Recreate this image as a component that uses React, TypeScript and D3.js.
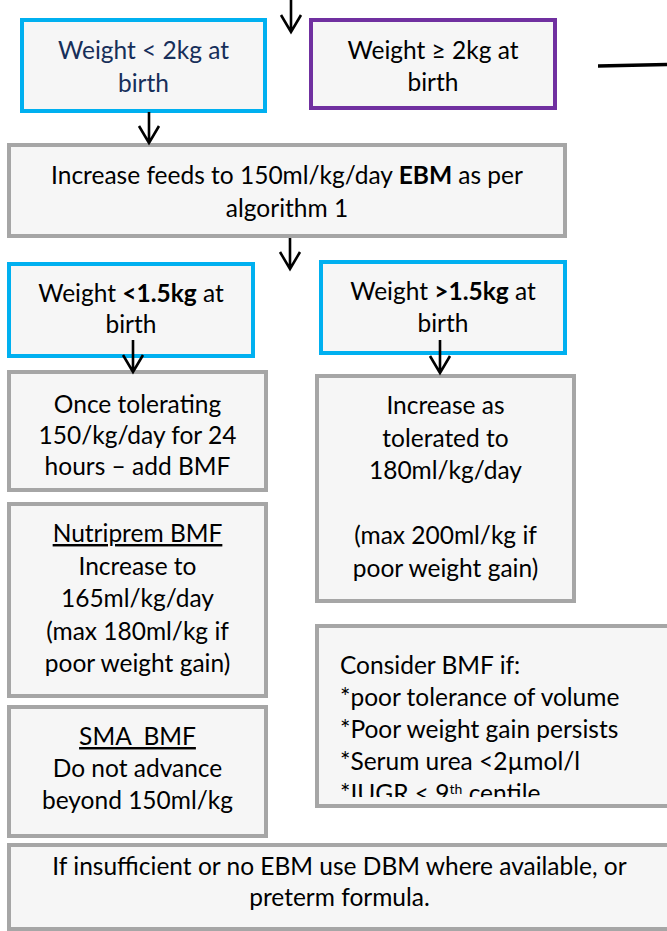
import React from "react";
import * as d3 from "d3";

// ---- content ----
const boxIds = ["A", "B", "C", "D", "E", "F", "G", "H", "I", "J", "K"];
const boxTexts: string[][] = [
  ["Weight < 2kg at", "birth"],
  ["Weight \u2265 2kg at", "birth"],
  ["Increase feeds to 150ml/kg/day **EBM** as per", "algorithm 1"],
  ["Weight **<1.5kg** at", "birth"],
  ["Weight **>1.5kg** at", "birth"],
  ["Once tolerating", "150/kg/day for 24", "hours \u2013 add BMF"],
  ["Increase as", "tolerated to", "180ml/kg/day", "", "(max 200ml/kg if", "poor weight gain)"],
  ["__Nutriprem BMF__", "Increase to", "165ml/kg/day", "(max 180ml/kg if", "poor weight gain)"],
  ["Consider BMF if:", "*poor tolerance of volume", "*Poor weight gain persists", "*Serum urea <2\u00b5mol/l", "*IUGR < 9^th^ centile"],
  ["__SMA  BMF__", "Do not advance", "beyond 150ml/kg"],
  ["If insufficient or no EBM use DBM where available, or", "preterm formula."],
];

// ---- layout (outer edges) ----
const boxX0 = [20, 309, 7, 7, 319, 7, 315, 7, 315, 7, 7];
const boxX1 = [267, 557, 567, 255, 567, 268, 576, 268, 680, 268, 672];
const boxY0 = [18, 18, 143, 262, 260, 370, 374, 502, 624, 705, 843];
const boxY1 = [113, 110, 238, 358, 355, 492, 603, 698, 808, 838, 931];
const firstBaseline = [59, 58.5, 184, 302, 300, 413, 414, 542, 674, 745, 875];
const lineGap = [32.5, 32.5, 32.5, 31, 32, 31, 32.5, 32.5, 32, 32, 31];
const borderKind = ["cyan", "purple", "gray", "cyan", "cyan", "gray", "gray", "gray", "gray", "gray", "gray"];
const align = ["middle", "middle", "middle", "middle", "middle", "middle", "middle", "middle", "start", "middle", "middle"];
const textLeft = [0, 0, 0, 0, 0, 0, 0, 0, 340, 0, 0];
const textClip = [0, 0, 0, 0, 0, 0, 0, 0, 797, 0, 0];

const arrowX = [291, 149, 290, 133, 440];
const arrowY0 = [0, 112, 238, 340, 340];
const arrowY1 = [32, 143, 269, 372, 373];

const colors: Record<string, string> = {
  cyan: "#00B0F0",
  purple: "#7030A0",
  gray: "#A6A6A6",
};
const FILL = "#F6F6F6";
const FONT = "Lato, 'Open Sans', sans-serif";
const FS = 24.5;

type Seg = { t: string; bold?: boolean; ul?: boolean; sup?: boolean };
function parse(line: string): Seg[] {
  const segs: Seg[] = [];
  const re = /(\*\*[^*]+\*\*|__[^_]+__|\^[^^]+\^)/g;
  let last = 0;
  let m: RegExpExecArray | null;
  while ((m = re.exec(line))) {
    if (m.index > last) segs.push({ t: line.slice(last, m.index) });
    const s = m[0];
    if (s.startsWith("**")) segs.push({ t: s.slice(2, -2), bold: true });
    else if (s.startsWith("__")) segs.push({ t: s.slice(2, -2), ul: true });
    else segs.push({ t: s.slice(1, -1), sup: true });
    last = m.index + s.length;
  }
  if (last < line.length) segs.push({ t: line.slice(last) });
  return segs;
}

function arrowPath(x: number, y0: number, y1: number) {
  const p = d3.path();
  p.moveTo(x, y0);
  p.lineTo(x, y1);
  p.moveTo(x - 10, y1 - 17);
  p.lineTo(x, y1);
  p.lineTo(x + 10, y1 - 17);
  return p.toString();
}

export default function App() {
  const W = 667;
  const H = 931;
  const lineGen = d3.line<[number, number]>();
  return (
    <svg
      width={W}
      height={H}
      viewBox={`0 0 ${W} ${H}`}
      style={{ position: "fixed", left: 0, top: 0, background: "#fff" }}
    >
      <defs>
        {boxIds.map((id, i) =>
          textClip[i] ? (
            <clipPath id={`clip${id}`} key={id}>
              <rect x={boxX0[i]} y={boxY0[i]} width={boxX1[i] - boxX0[i]} height={textClip[i] - boxY0[i]} />
            </clipPath>
          ) : null
        )}
      </defs>
      {boxIds.map((id, i) => {
        const sw = 4;
        const x = boxX0[i] + sw / 2;
        const y = boxY0[i] + sw / 2;
        const w = boxX1[i] - boxX0[i] - sw;
        const h = boxY1[i] - boxY0[i] - sw;
        const cx = (boxX0[i] + boxX1[i]) / 2;
        const tx = align[i] === "middle" ? cx : textLeft[i];
        const fill = i === 0 ? "#172F5A" : "#000";
        return (
          <g key={id}>
            <rect x={x} y={y} width={w} height={h} fill={FILL} stroke={colors[borderKind[i]]} strokeWidth={sw} />
            <g clipPath={textClip[i] ? `url(#clip${id})` : undefined}>
              {boxTexts[i].map((ln, j) => (
                <text
                  key={j}
                  x={tx}
                  y={firstBaseline[i] + j * lineGap[i]}
                  textAnchor={align[i]}
                  fontFamily={FONT}
                  fontSize={FS}
                  fill={fill}
                  style={{ whiteSpace: "pre" }}
                >
                  {parse(ln).map((s, k) => (
                    <tspan
                      key={k}
                      fontWeight={s.bold ? 700 : 400}
                      textDecoration={s.ul ? "underline" : undefined}
                      fontSize={s.sup ? 14 : undefined}
                      baselineShift={s.sup ? "super" : undefined}
                    >
                      {s.t}
                    </tspan>
                  ))}
                </text>
              ))}
            </g>
          </g>
        );
      })}
      {arrowX.map((ax, i) => (
        <path
          key={i}
          d={arrowPath(ax, arrowY0[i], arrowY1[i])}
          fill="none"
          stroke="#000"
          strokeWidth={2.6}
          strokeLinejoin="miter"
        />
      ))}
      <path d={lineGen([[598, 66], [667, 64.5]]) || ""} stroke="#000" strokeWidth={3.5} fill="none" />
    </svg>
  );
}
